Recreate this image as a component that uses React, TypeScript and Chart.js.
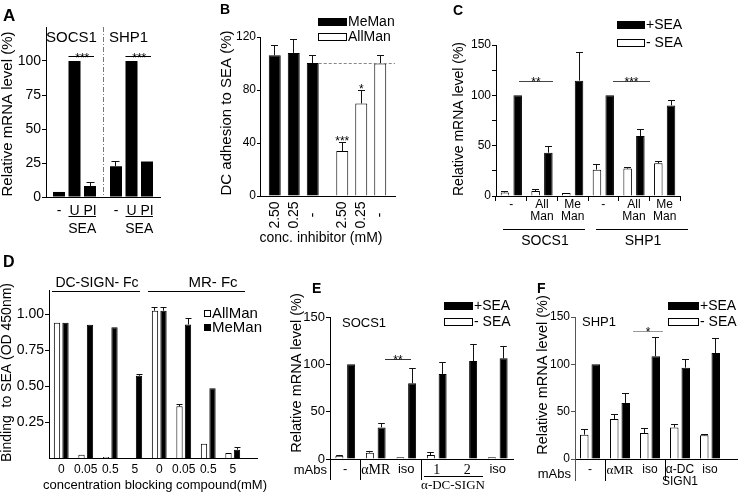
import React, { useEffect, useRef } from 'react';
import { Chart, registerables } from 'chart.js';

Chart.register(...registerables);

const SANS = "'Liberation Sans', Arial, Helvetica, sans-serif";
const SERIF = "'Liberation Serif', 'Times New Roman', serif";

// ---------------- Panel A ----------------
const aGenes = ['SOCS1', 'SHP1'];
const aTreatLabels = ['-', 'U', 'PI'];
const aMock = [3.7, 22.6];
const aMockErr = [0, 3.7];
const aU = [100, 100];
const aUErr = [0, 0];
const aPI = [8.1, 26.1];
const aPIErr = [2.2, 0];
const aSig = ['***', '***'];
const aYTicks = [0, 25, 50, 75, 100];

// ---------------- Panel B ----------------
const bCompounds = ['MeMan', 'AllMan'];
const bConcLabels = ['2.50', '0.25', '-'];
const bConc250 = [106.2, 33.9];
const bConc250Err = [7.6, 6.5];
const bConc025 = [108, 69.8];
const bConc025Err = [10, 10];
const bNoInhib = [100.4, 100];
const bNoInhibErr = [5.8, 6.4];
const bSig250 = ['', '***'];
const bSig025 = ['', '*'];
const bYTicks = [0, 40, 80, 120];
const bRefLine = 100;

// ---------------- Panel C ----------------
const cLabels = ['-', ['All', 'Man'], ['Me', 'Man'], '-', ['All', 'Man'], ['Me', 'Man']];
const cGenes = ['SOCS1', 'SHP1'];
const cNoSEA = [3.5, 5, 3, 26.2, 27.2, 32.5];
const cNoSEAErr = [1.3, 1, 0, 4.6, 1, 1.5];
const cSEA = [100, 43, 114.6, 100, 59.5, 90];
const cSEAErr = [0, 6, 28.4, 0, 7, 4.4];
const cSig = ['**', '***'];
const cYTicks = [0, 25, 50, 75, 100, 125, 150];

// ---------------- Panel D ----------------
const dConc = ['0', '0.05', '0.5', '5', '0', '0.05', '0.5', '5'];
const dReceptors = ['DC-SIGN- Fc', 'MR- Fc'];
const dAllMan = [0.942, 0.023, 0.007, 0, 1.026, 0.36, 0.1, 0.035];
const dAllManErr = [0, 0, 0, 0, 0.02, 0.012, 0, 0];
const dMeMan = [0.942, 0.928, 0.91, 0.573, 1.026, 0.93, 0.486, 0.058];
const dMeManErr = [0, 0, 0, 0.012, 0.02, 0.04, 0, 0.012];
const dYTicks = [0.25, 0.5, 0.75, 1.0];

// ---------------- Panel E ----------------
const eLabels = ['-', 'αMR', 'iso', '1', '2', 'iso'];
const eNoSEA = [3.5, 6.7, 1.8, 4.2, null, 1.8];
const eNoSEAErr = [0.5, 0.7, 0, 2.8, 0, 0];
const eSEA = [100, 33.4, 80, 89.8, 103.5, 106.3];
const eSEAErr = [0, 3.9, 15.4, 12.2, 17.3, 12.7];
const eYTicks = [0, 50, 100, 150];

// ---------------- Panel F ----------------
const fLabels = ['-', 'αMR', 'iso', ['α-DC', 'SIGN1'], 'iso'];
const fNoSEA = [25.7, 42.3, 27.5, 33.4, 25];
const fNoSEAErr = [5.3, 4.2, 4.5, 2.8, 1];
const fSEA = [100, 59.2, 108.5, 96.5, 112];
const fSEAErr = [0, 9.8, 20.1, 9.1, 15.8];
const fYTicks = [0, 50, 100, 150];

// ---------------- layout ----------------
type Box = { left: number; top: number; width: number; height: number; plotLeft: number; plotRight: number; plotTop: number; plotBottom: number };

const boxA: Box = { left: 0, top: 0, width: 205, height: 245, plotLeft: 46, plotRight: 160, plotTop: 27, plotBottom: 197 };
const boxB: Box = { left: 205, top: 0, width: 235, height: 245, plotLeft: 260, plotRight: 395, plotTop: 37, plotBottom: 196 };
const boxC: Box = { left: 440, top: 0, width: 300, height: 252, plotLeft: 496, plotRight: 680, plotTop: 45, plotBottom: 196 };
const boxD: Box = { left: 0, top: 245, width: 275, height: 249, plotLeft: 49, plotRight: 245, plotTop: 290, plotBottom: 458 };
const boxE: Box = { left: 275, top: 245, width: 245, height: 249, plotLeft: 330, plotRight: 513, plotTop: 317, plotBottom: 459 };
const boxF: Box = { left: 520, top: 245, width: 220, height: 249, plotLeft: 575, plotRight: 725, plotTop: 317, plotBottom: 459 };

const font = (size: number, family: string = SANS, weight: string = 'normal') => `${weight} ${size}px ${family}`;

function txt(ctx: CanvasRenderingContext2D, s: string, x: number, y: number, f: string, align: CanvasTextAlign = 'center', base: CanvasTextBaseline = 'middle', color = '#000') {
  ctx.save();
  ctx.font = f;
  ctx.fillStyle = color;
  ctx.textAlign = align;
  ctx.textBaseline = base;
  ctx.fillText(s, x, y);
  ctx.restore();
}

function vtxt(ctx: CanvasRenderingContext2D, s: string, x: number, y: number, f: string, align: CanvasTextAlign = 'center') {
  ctx.save();
  ctx.translate(x, y);
  ctx.rotate(-Math.PI / 2);
  ctx.font = f;
  ctx.fillStyle = '#000';
  ctx.textAlign = align;
  ctx.textBaseline = 'middle';
  ctx.fillText(s, 0, 0);
  ctx.restore();
}

function line(ctx: CanvasRenderingContext2D, x1: number, y1: number, x2: number, y2: number, color = '#000', width = 1, dash: number[] = []) {
  ctx.save();
  if (y1 === y2) { y1 = y2 = Math.round(y1 - 0.5) + 0.5; }
  if (x1 === x2) { x1 = x2 = Math.round(x1 - 0.5) + 0.5; }
  ctx.strokeStyle = color;
  ctx.lineWidth = width;
  ctx.setLineDash(dash);
  ctx.beginPath();
  ctx.moveTo(x1, y1);
  ctx.lineTo(x2, y2);
  ctx.stroke();
  ctx.restore();
}

function legendBox(ctx: CanvasRenderingContext2D, x: number, y: number, w: number, h: number, filled: boolean, label: string, f: string) {
  ctx.save();
  ctx.fillStyle = filled ? '#000' : '#fff';
  ctx.fillRect(x, y, w, h);
  ctx.strokeStyle = '#000';
  ctx.lineWidth = 1;
  ctx.strokeRect(x + 0.5, y + 0.5, w - 1, h - 1);
  ctx.restore();
  txt(ctx, label, x + w + 1, y + h / 2 + 0.5, f, 'left');
}

function errorBars(chart: any, errs: (number | null)[][], cap: number) {
  const ctx: CanvasRenderingContext2D = chart.ctx;
  const y = chart.scales.y;
  ctx.save();
  ctx.strokeStyle = '#111';
  ctx.lineWidth = 1;
  errs.forEach((e, di) => {
    const meta = chart.getDatasetMeta(di);
    const data = chart.data.datasets[di].data;
    meta.data.forEach((el: any, i: number) => {
      const v = data[i];
      const err = e ? e[i] : 0;
      if (v == null || !err) return;
      const xp = Math.round(el.x - 0.5) + 0.5;
      const top = Math.round(y.getPixelForValue(v + err) - 0.5) + 0.5;
      ctx.beginPath();
      ctx.moveTo(xp, el.y);
      ctx.lineTo(xp, top);
      ctx.moveTo(xp - cap, top);
      ctx.lineTo(xp + cap, top);
      ctx.stroke();
    });
  });
  ctx.restore();
}

type Helper = {
  sx: (v: number) => number;
  sy: (v: number) => number;
  bar: (d: number, i: number) => { x: number; w: number; y: number };
  left: number; right: number; top: number; bottom: number;
};

function ds(data: any[], fill: string | string[], cat: number, bar: number, border = 1) {
  return { data, backgroundColor: fill, borderColor: '#000', borderWidth: border, categoryPercentage: cat, barPercentage: bar, borderSkipped: 'start' };
}

function yAxis(min: number, max: number, ticks: number[], size: number, label: (v: number) => string, color = '#000', tickLength = 4) {
  return {
    type: 'linear',
    min,
    max,
    afterBuildTicks: (s: any) => { s.ticks = ticks.map((v) => ({ value: v })); },
    ticks: { font: { family: SANS, size }, color: '#000', padding: 1, callback: (v: any) => label(Number(v)) },
    grid: { display: true, drawOnChartArea: false, drawTicks: true, tickLength, color },
    border: { display: true, color, width: 1 },
  };
}

function makeConfig(box: Box, labels: any[], datasets: any[], y: any, x: any, errs: any[], cap: number, draw: (chart: any, ctx: CanvasRenderingContext2D, h: Helper) => void) {
  return {
    type: 'bar',
    data: { labels, datasets },
    options: {
      responsive: false,
      maintainAspectRatio: false,
      animation: false,
      devicePixelRatio: 1,
      layout: { padding: { left: 0, top: box.plotTop - box.top, right: box.left + box.width - box.plotRight, bottom: 0 } },
      plugins: { legend: { display: false }, tooltip: { enabled: false }, title: { display: false } },
      scales: {
        x: {
          type: 'category',
          offset: true,
          grid: { display: false, drawTicks: false },
          ticks: { display: false },
          border: { display: true, color: '#000', width: 1 },
          ...x,
          afterFit: (s: any) => { s.height = box.top + box.height - box.plotBottom; },
        },
        y: { ...y, afterFit: (s: any) => { s.width = box.plotLeft - box.left; } },
      },
    },
    plugins: [
      {
        id: 'deco',
        afterDatasetsDraw(chart: any) { errorBars(chart, errs, cap); },
        afterDraw(chart: any) {
          const ctx: CanvasRenderingContext2D = chart.ctx;
          const ca = chart.chartArea;
          const h: Helper = {
            sx: (v) => chart.scales.x.getPixelForValue(v) + box.left,
            sy: (v) => chart.scales.y.getPixelForValue(v) + box.top,
            bar: (d, i) => { const el: any = chart.getDatasetMeta(d).data[i]; return { x: el.x + box.left, w: el.width, y: el.y + box.top }; },
            left: ca.left + box.left, right: ca.right + box.left, top: ca.top + box.top, bottom: ca.bottom + box.top,
          };
          ctx.save();
          ctx.translate(-box.left, -box.top);
          draw(chart, ctx, h);
          ctx.restore();
        },
      },
    ],
  };
}

// ---------------- panel configs ----------------
const configA = () => makeConfig(
  boxA, aGenes,
  [ds(aMock, '#000', 0.816, 0.774, 0), ds(aU, '#000', 0.816, 0.774, 0), ds(aPI, '#000', 0.816, 0.774, 0)],
  yAxis(0, 125, aYTicks, 14, (v) => String(v)),
  {}, [aMockErr, aUErr, aPIErr], 4,
  (chart, ctx, h) => {
    for (let g = 0; g < aGenes.length; g++) {
      for (let t = 0; t < aTreatLabels.length; t++) {
        const b = h.bar(t, g);
        txt(ctx, aTreatLabels[t], b.x, 211, font(14));
      }
      const u = h.bar(1, g);
      const p = h.bar(2, g);
      line(ctx, u.x - u.w / 2, 216.5, p.x + p.w / 2, 216.5);
      txt(ctx, 'SEA', (u.x + p.x) / 2, 229, font(14));
      const sy = h.sy(103);
      line(ctx, u.x - u.w / 2, sy, p.x + p.w / 2 - 2, sy);
      txt(ctx, aSig[g], (u.x + p.x) / 2, sy + 4.7, font(12), 'center', 'alphabetic');
      txt(ctx, aGenes[g], h.sx(g) - 3, 38, font(15));
    }
    const dx = h.sx(0.5);
    line(ctx, dx, h.top, dx, h.bottom, '#777', 1, [5, 2, 1, 2]);
    vtxt(ctx, 'Relative mRNA level (%)', 8, 114, font(15));
    txt(ctx, 'A', 3, 21, font(17, SANS, 'bold'), 'left', 'alphabetic');
  },
);

const bColors = ['#000', '#fff'];
const configB = () => makeConfig(
  boxB, bCompounds,
  [ds(bConc250, bColors, 0.844, 0.63), ds(bConc025, bColors, 0.844, 0.63), ds(bNoInhib, bColors, 0.844, 0.63)],
  yAxis(0, 120, bYTicks, 12, (v) => String(v), '#000', 3),
  {}, [bConc250Err, bConc025Err, bNoInhibErr], 3.5,
  (chart, ctx, h) => {
    const ry = h.sy(bRefLine);
    const third = h.bar(2, 0);
    line(ctx, third.x + third.w / 2, ry, h.right, ry, '#888', 1, [3, 2]);
    for (let t = 0; t < bConcLabels.length; t++) {
      for (let g = 0; g < bCompounds.length; g++) {
        vtxt(ctx, bConcLabels[t], h.bar(t, g).x, 215, font(14));
      }
    }
    const sigs = [bSig250, bSig025];
    const vals = [bConc250, bConc025];
    const errs = [bConc250Err, bConc025Err];
    sigs.forEach((sig, t) => sig.forEach((s, g) => {
      if (!s) return;
      const top = h.sy(vals[t][g] + errs[t][g]);
      txt(ctx, s, h.bar(t, g).x, top + 2.5, font(12), 'center', 'alphabetic');
    }));
    txt(ctx, 'conc. inhibitor (mM)', 321, 238, font(14));
    legendBox(ctx, 318, 18, 29, 8, true, bCompounds[0], font(14));
    legendBox(ctx, 318, 33, 29, 8, false, bCompounds[1], font(14));
    vtxt(ctx, 'DC adhesion to SEA (%)', 226.5, 113, font(15));
    txt(ctx, 'B', 220, 14, font(14, SANS, 'bold'), 'left', 'alphabetic');
  },
);

const configC = () => makeConfig(
  boxC, cLabels,
  [ds(cNoSEA, '#fff', 0.83, 0.67), ds(cSEA, '#000', 0.83, 0.67)],
  yAxis(0, 150, cYTicks, 12, (v) => (v % 50 === 0 ? String(v) : '')),
  {
    grid: { display: true, drawOnChartArea: false, drawTicks: true, tickLength: 5, offset: true, color: '#000' },
    ticks: { display: true, font: { family: SANS, size: 12, lineHeight: 1.0 }, color: '#000', padding: -2, maxRotation: 0, autoSkip: false },
  },
  [cNoSEAErr, cSEAErr], 3.5,
  (chart, ctx, h) => {
    legendBox(ctx, 617, 21, 28, 8, true, '+SEA', font(14));
    legendBox(ctx, 617, 39, 28, 8, false, '- SEA', font(14));
    line(ctx, 519, 81.5, 553, 81.5, '#444');
    txt(ctx, cSig[0], 536, 86.2, font(12), 'center', 'alphabetic');
    line(ctx, 613, 81.5, 650, 81.5, '#444');
    txt(ctx, cSig[1], 631.5, 86.2, font(12), 'center', 'alphabetic');
    line(ctx, 503, 229.5, 585, 229.5);
    line(ctx, 596, 229.5, 688, 229.5);
    txt(ctx, cGenes[0], 545, 241, font(14));
    txt(ctx, cGenes[1], 643, 241, font(14));
    vtxt(ctx, 'Relative mRNA level (%)', 459, 119, font(14));
    txt(ctx, 'C', 453, 15, font(14, SANS, 'bold'), 'left', 'alphabetic');
  },
);

const configD = () => makeConfig(
  boxD, dConc,
  [ds(dAllMan, '#fff', 0.694, 0.74), ds(dMeMan, '#000', 0.694, 0.74)],
  yAxis(0, 1.17, dYTicks, 14, (v) => v.toFixed(2)),
  { ticks: { display: true, font: { family: SANS, size: 12, lineHeight: 1.0 }, color: '#000', padding: 6, maxRotation: 0, autoSkip: false } },
  [dAllManErr, dMeManErr], 3,
  (chart, ctx, h) => {
    line(ctx, h.right, 458.5, 258, 458.5);
    txt(ctx, dReceptors[0], 97, 283, font(14));
    line(ctx, 52, 291.5, 140, 291.5);
    txt(ctx, dReceptors[1], 213, 283, font(15));
    line(ctx, 148, 291.5, 245, 291.5);
    legendBox(ctx, 204, 310, 7, 7, false, 'AllMan', font(15));
    legendBox(ctx, 204, 324, 7, 7, true, 'MeMan', font(15));
    txt(ctx, 'concentration blocking compound(mM)', 155, 485, font(13));
    vtxt(ctx, 'Binding  to SEA (OD 450nm)', 7, 372.5, font(14));
    txt(ctx, 'D', 3, 267, font(16, SANS, 'bold'), 'left', 'alphabetic');
  },
);

const isSerifLabel = (s: any) => s === 'αMR' || /^\d$/.test(String(s));

const configE = () => makeConfig(
  boxE, eLabels,
  [ds(eNoSEA, '#fff', 0.77, 0.68), ds(eSEA, '#000', 0.77, 0.68)],
  yAxis(0, 150, eYTicks, 13, (v) => String(v)),
  {
    ticks: {
      display: true, color: '#000', padding: 4, maxRotation: 0, autoSkip: false,
      font: (c: any) => (isSerifLabel(eLabels[c.index]) ? { family: SERIF, size: 14, lineHeight: 1.0 } : { family: SANS, size: 13, lineHeight: 1.0 }),
    },
  },
  [eNoSEAErr, eSEAErr], 3.3,
  (chart, ctx, h) => {
    line(ctx, h.left, h.bottom, h.left, 480);
    line(ctx, h.sx(0.5), h.bottom, h.sx(0.5), 480);
    line(ctx, h.sx(2.5), h.bottom, h.sx(2.5), 480);
    txt(ctx, 'mAbs', 327, 470, font(13), 'right');
    line(ctx, 424, 476.5, 483, 476.5);
    txt(ctx, 'α-DC-SIGN', 453, 485.5, font(13, SERIF));
    txt(ctx, 'SOCS1', 364, 323, font(13));
    line(ctx, 385, 359.5, 411, 359.5, '#333');
    txt(ctx, '**', 398, 364.2, font(12), 'center', 'alphabetic');
    legendBox(ctx, 444, 302, 29, 8, true, '+SEA', font(14));
    legendBox(ctx, 444, 318, 29, 8, false, '- SEA', font(14));
    vtxt(ctx, 'Relative mRNA level (%)', 296.5, 373, font(14.5));
    txt(ctx, 'E', 312, 293, font(14, SANS, 'bold'), 'left', 'alphabetic');
  },
);

const configF = () => makeConfig(
  boxF, fLabels,
  [ds(fNoSEA, '#fff', 0.767, 0.74), ds(fSEA, '#000', 0.767, 0.74)],
  yAxis(0, 150, fYTicks, 12, (v) => String(v), '#555'),
  {
    ticks: {
      display: true, color: '#000', padding: 5, maxRotation: 0, autoSkip: false,
      font: (c: any) => (isSerifLabel(fLabels[c.index]) ? { family: SERIF, size: 13, lineHeight: 0.95 } : { family: SANS, size: 12, lineHeight: 0.98 }),
    },
  },
  [fNoSEAErr, fSEAErr], 3.5,
  (chart, ctx, h) => {
    line(ctx, h.left, h.bottom, h.left, 481, '#555');
    line(ctx, h.sx(0.5), h.bottom, h.sx(0.5), 481);
    line(ctx, h.sx(2.5), h.bottom, h.sx(2.5), 481);
    line(ctx, h.right, 459.5, 738, 459.5);
    txt(ctx, 'mAbs', 571, 474, font(13), 'right');
    txt(ctx, 'SHP1', 582, 322, font(13), 'left');
    line(ctx, 633, 331.5, 663, 331.5, '#999');
    txt(ctx, '*', 648, 336, font(12), 'center', 'alphabetic');
    legendBox(ctx, 668, 302, 31, 8, true, '+SEA', font(14));
    legendBox(ctx, 668, 318, 31, 8, false, '- SEA', font(14));
    vtxt(ctx, 'Relative mRNA level (%)', 543, 375, font(14.5));
    txt(ctx, 'F', 537, 293, font(14, SANS, 'bold'), 'left', 'alphabetic');
  },
);

const panels: { box: Box; config: () => any }[] = [
  { box: boxA, config: configA },
  { box: boxB, config: configB },
  { box: boxC, config: configC },
  { box: boxD, config: configD },
  { box: boxE, config: configE },
  { box: boxF, config: configF },
];

export default function App() {
  const refs = useRef<(HTMLCanvasElement | null)[]>([]);
  useEffect(() => {
    const charts = panels.map((p, i) => new Chart(refs.current[i] as HTMLCanvasElement, p.config() as any));
    return () => charts.forEach((c) => c.destroy());
  }, []);
  return (
    <div style={{ position: 'fixed', left: 0, top: 0, width: 740, height: 494, background: '#fff', overflow: 'hidden' }}>
      {panels.map((p, i) => (
        <canvas
          key={i}
          ref={(el) => { refs.current[i] = el; }}
          width={p.box.width}
          height={p.box.height}
          style={{ position: 'absolute', left: p.box.left, top: p.box.top, width: p.box.width, height: p.box.height }}
        />
      ))}
    </div>
  );
}
